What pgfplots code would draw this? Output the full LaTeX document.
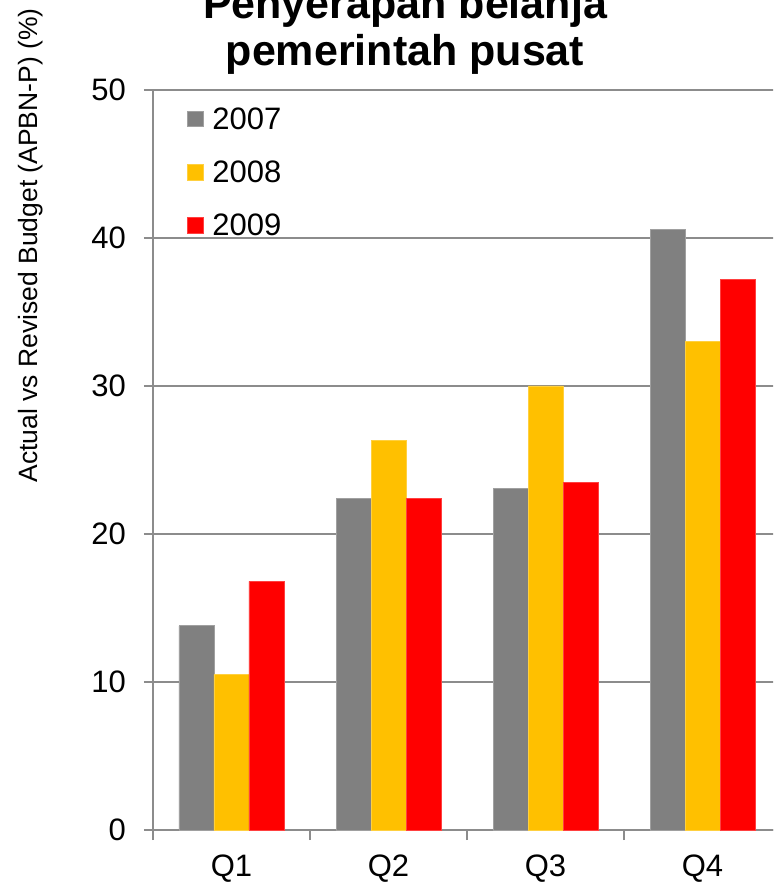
\documentclass[border=0pt]{standalone}
\usepackage{pgfplots}
\pgfplotsset{compat=1.18}
\usepackage{fontspec}
\setmainfont{Liberation Sans}
\definecolor{cgray}{HTML}{808080}
\definecolor{cyellow}{HTML}{FFC000}
\definecolor{cred}{HTML}{FF0000}
\definecolor{gridgray}{HTML}{8C8C8C}
\begin{document}
\begin{tikzpicture}[x=1pt,y=1pt]
\useasboundingbox (-153,-52) rectangle (620,830);
\clip (-153,-52) rectangle (620,830);
\begin{axis}[
  at={(0,0)}, anchor=south west,
  scale only axis, width=628pt, height=740pt,
  ybar=0pt, bar width=35pt,
  xmin=-0.5, xmax=3.5, ymin=0, ymax=50,
  xtick={0,1,2,3}, xticklabels={Q1,Q2,Q3,Q4},
  minor xtick={-0.5,0.5,1.5,2.5,3.5},
  ytick={0,10,20,30,40,50},
  axis x line*=bottom, axis y line*=left,
  axis line style={draw=gridgray, line width=2pt, -},
  tick align=outside,
  major tick length=9pt, minor tick length=10pt,
  major x tick style={draw=none},
  minor x tick style={draw=gridgray, line width=1.5pt},
  major y tick style={draw=gridgray, line width=1.5pt},
  ymajorgrids, grid style={draw=gridgray, line width=2pt},
  /pgf/number format/assume math mode=true,
  tick label style={font=\fontsize{31}{36}\selectfont, inner sep=0pt},
  yticklabel style={xshift=-18pt},
  xticklabel style={yshift=-16pt},
  ylabel={Actual vs Revised Budget (APBN-P) (\%)},
  ylabel style={font=\fontsize{26.5}{30}\selectfont, at={(axis description cs:-0.1847,0.790)}, anchor=base},
  title={Penyerapan belanja\\pemerintah pusat},
  title style={font=\fontsize{43}{47}\selectfont\bfseries, align=center, at={(axis description cs:0.4013,1)}, anchor=south, inner sep=0pt, yshift=9pt},
  legend style={at={(axis description cs:0.054,0.979)}, anchor=north west, draw=none, fill=none,
    font=\fontsize{31}{34}\selectfont, row sep=26pt, inner sep=0pt,
    /tikz/every odd column/.append style={column sep=7pt}},
  legend cell align=left,
  legend image code/.code={\fill[#1] (0pt,-7.5pt) rectangle (15.5pt,8pt);},
]
\addplot[fill=cgray, draw=cgray!75!white, line width=0.8pt] coordinates {(0,13.8) (1,22.4) (2,23.1) (3,40.6)};
\addplot[fill=cyellow, draw=cyellow!75!white, line width=0.8pt] coordinates {(0,10.5) (1,26.35) (2,30.0) (3,33.0)};
\addplot[fill=cred, draw=cred!75!white, line width=0.8pt] coordinates {(0,16.8) (1,22.4) (2,23.5) (3,37.2)};
\legend{2007,2008,2009}
\end{axis}
\end{tikzpicture}
\end{document}
